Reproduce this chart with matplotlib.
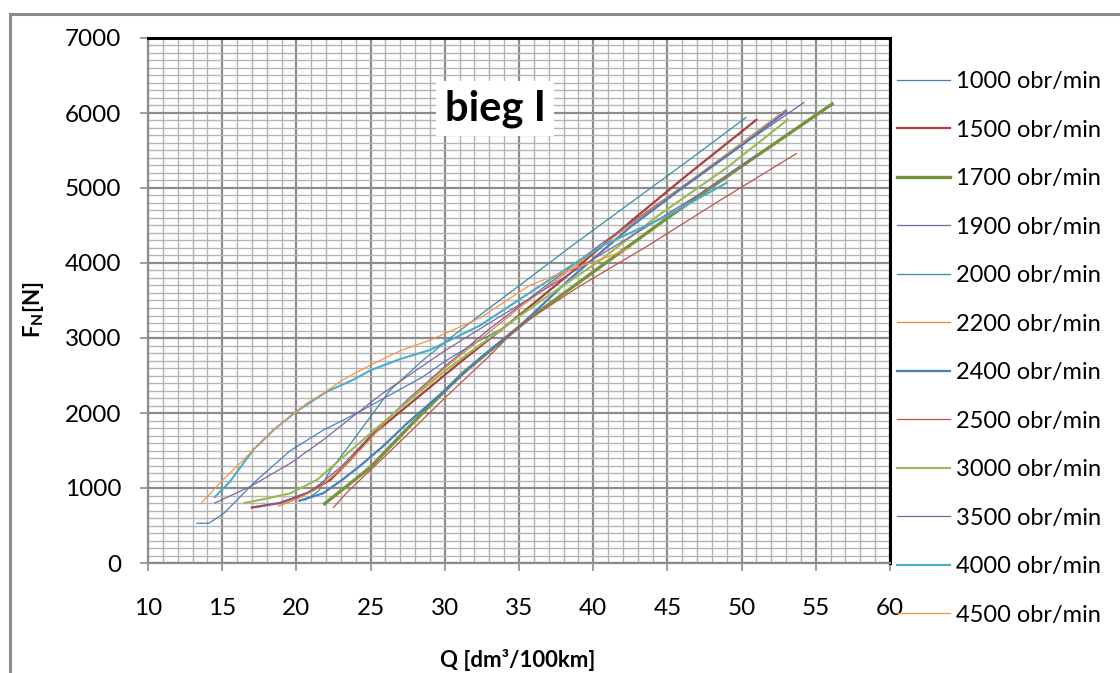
import matplotlib
matplotlib.use("Agg")
import matplotlib.pyplot as plt
from matplotlib.ticker import MultipleLocator
from matplotlib.patches import Rectangle

plt.rcParams['font.family'] = ['Lato', 'DejaVu Sans']
plt.rcParams['mathtext.default'] = 'regular'

# === DATA (Q [dm3/100km], F_N [N]) ===
labels = ["1000 obr/min", "1500 obr/min", "1700 obr/min", "1900 obr/min",
          "2000 obr/min", "2200 obr/min", "2400 obr/min", "2500 obr/min",
          "3000 obr/min", "3500 obr/min", "4000 obr/min", "4500 obr/min"]

q_1000 = [13.3, 14.1, 15.1, 16.2, 17.3, 19.6, 21.8, 24.1, 26.3, 28.5, 30.1, 32.0, 33.9]
f_1000 = [530, 530, 660, 880, 1100, 1500, 1770, 2000, 2240, 2480, 2700, 2930, 3130]

q_1500 = [17.0, 18.9, 20.7, 22.3, 23.6, 25.0, 28.0, 31.0, 35.0, 38.5, 42.5, 46.5, 51.0]
f_1500 = [740, 800, 930, 1110, 1370, 1690, 2180, 2670, 3300, 3870, 4550, 5200, 5910]

q_1700 = [21.9, 24.0, 25.0, 28.0, 31.2, 35.7, 40.0, 45.0, 50.0, 56.1]
f_1700 = [790, 1120, 1280, 1900, 2530, 3260, 3880, 4600, 5290, 6120]

q_1900 = [17.3, 19.0, 21.0, 23.0, 25.0, 27.5, 30.0, 33.0, 36.5, 40.5, 44.5, 49.0, 54.2]
f_1900 = [740, 810, 960, 1280, 1700, 2180, 2620, 3120, 3650, 4250, 4810, 5430, 6140]

q_2000 = [20.6, 21.5, 22.3, 23.5, 24.8, 26.3, 28.5, 30.5, 32.8, 35.5, 38.5, 42.5, 46.5, 50.3]
f_2000 = [840, 960, 1240, 1550, 1900, 2300, 2700, 3020, 3370, 3770, 4220, 4800, 5380, 5940]

q_2200 = [18.8, 20.0, 21.5, 23.0, 24.5, 26.0, 28.0, 30.0, 32.5, 35.0, 38.5, 42.5, 46.0, 50.0, 53.0]
f_2200 = [760, 850, 1000, 1250, 1550, 1880, 2250, 2600, 3000, 3400, 3920, 4510, 5020, 5600, 6050]

q_2400 = [20.2, 21.8, 23.1, 24.5, 25.8, 27.5, 30.0, 32.5, 35.0, 38.5, 42.5, 46.0, 50.0, 53.0]
f_2400 = [830, 930, 1110, 1330, 1550, 1870, 2300, 2750, 3150, 3800, 4480, 5000, 5570, 6020]

q_2500 = [22.5, 23.5, 25.1, 27.0, 30.0, 33.0, 35.0, 39.0, 43.6, 48.5, 53.7]
f_2500 = [740, 960, 1260, 1620, 2200, 2760, 3160, 3680, 4220, 4830, 5460]

q_3000 = [16.5, 18.0, 19.6, 21.4, 22.9, 25.0, 27.5, 30.0, 33.0, 36.5, 40.5, 44.5, 49.0, 53.1]
f_3000 = [800, 860, 930, 1110, 1370, 1730, 2150, 2560, 3000, 3500, 4040, 4650, 5270, 5910]

q_3500 = [14.5, 16.9, 19.6, 21.8, 24.1, 25.8, 28.0, 30.0, 33.0, 36.0, 40.0, 43.0, 47.0, 51.0]
f_3500 = [800, 1020, 1330, 1640, 2000, 2260, 2560, 2830, 3200, 3560, 4050, 4410, 4900, 5440]

q_4000 = [14.5, 15.5, 17.1, 18.5, 20.0, 22.0, 23.8, 25.0, 27.0, 29.0, 32.4, 36.0, 40.5, 44.9, 49.0]
f_4000 = [880, 1080, 1510, 1780, 2020, 2280, 2440, 2570, 2720, 2840, 3170, 3640, 4220, 4620, 5070]

q_4500 = [13.6, 15.05, 16.2, 17.3, 18.4, 19.6, 20.7, 21.8, 23.1, 25.0, 27.0, 29.0, 32.4, 35.7, 38.0, 41.1, 42.5]
f_4500 = [800, 1110, 1330, 1550, 1770, 1950, 2130, 2260, 2440, 2640, 2830, 2970, 3270, 3700, 3880, 4090, 4200]

q_series = [q_1000, q_1500, q_1700, q_1900, q_2000, q_2200, q_2400, q_2500, q_3000, q_3500, q_4000, q_4500]
f_series = [f_1000, f_1500, f_1700, f_1900, f_2000, f_2200, f_2400, f_2500, f_3000, f_3500, f_4000, f_4500]

# styles
colors = ['#4A7EBB', '#A8403D', '#77933C', '#7D60A0', '#3B8CA5', '#E8832E',
          '#4A7EBB', '#C0504D', '#98B954', '#8064A2', '#4BACC6', '#F79646']
widths = [0.9, 1.6, 2.4, 0.9, 0.9, 0.9, 1.6, 0.9, 1.5, 0.9, 1.5, 0.9]

fig = plt.figure(figsize=(11.2, 6.73), dpi=100)
ax = fig.add_axes([148 / 1120, 1 - 563 / 673, (890 - 148) / 1120, (563 - 38) / 673])

# outer chart frame
fig.patches.append(Rectangle((10 / 1120, -0.1), 1.2, 1.1 - 14 / 673, transform=fig.transFigure,
                             fill=False, edgecolor='#8C8C8C', linewidth=2.2, zorder=0))

for q, f, c, w, lab in zip(q_series, f_series, colors, widths, labels):
    ax.plot(q, f, color=c, linewidth=w, label=lab)

ax.set_xlim(10, 60)
ax.set_ylim(0, 7000)
ax.xaxis.set_major_locator(MultipleLocator(5))
ax.xaxis.set_minor_locator(MultipleLocator(1))
ax.yaxis.set_major_locator(MultipleLocator(1000))
ax.yaxis.set_minor_locator(MultipleLocator(100))
ax.grid(which='major', color='#8C8C8C', linewidth=1.6)
ax.grid(which='minor', color='#B4B4B4', linewidth=1.0)
ax.set_axisbelow(True)

for side in ['top', 'right']:
    ax.spines[side].set_color('black')
    ax.spines[side].set_linewidth(2.2)
for side in ['left', 'bottom']:
    ax.spines[side].set_color('#8C8C8C')
    ax.spines[side].set_linewidth(1.6)

ax.tick_params(which='major', direction='out', length=6, width=1.2, color='#8C8C8C',
               labelsize=17.5, labelcolor='black')
ax.tick_params(which='minor', length=0)
ax.tick_params(axis='x', pad=19)
ax.tick_params(axis='y', pad=13)

ax.text(0.468, 0.865, "bieg I", transform=ax.transAxes, fontsize=30, fontweight='bold',
        ha='center', va='center', bbox=dict(facecolor='white', edgecolor='none', pad=6))

fig.text(518 / 1120, 1 - 660 / 673, "Q [dm³/100km]", fontsize=16, fontweight='bold',
         ha='center', va='center')
fig.text(34 / 1120, 1 - 310 / 673, "F$_N$[N]", fontsize=16, fontweight='bold',
         ha='center', va='center', rotation=90)

fig.legend(loc='upper left', bbox_to_anchor=(897 / 1120, 1 - 71 / 673), frameon=False,
           fontsize=17, handlelength=2.25, handletextpad=0.25, labelspacing=1.165,
           borderaxespad=0, borderpad=0)

fig.savefig("out.png", dpi=100)
